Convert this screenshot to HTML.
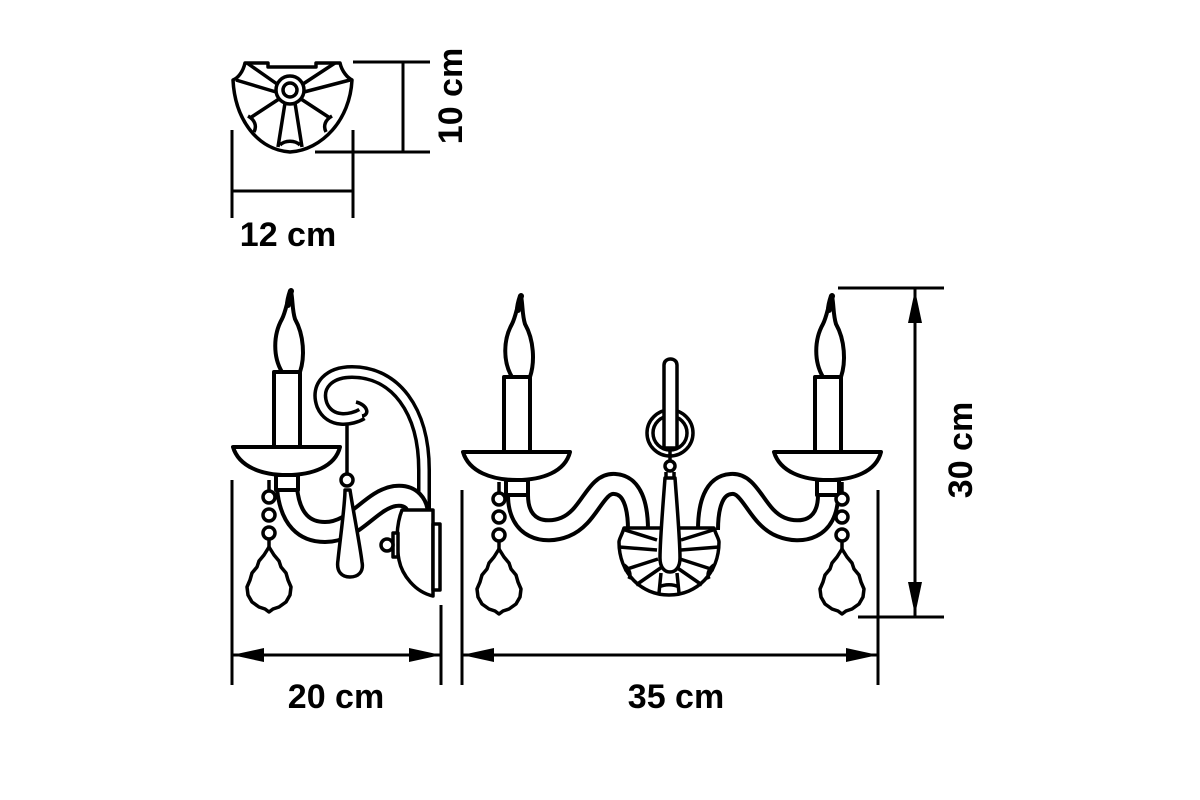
<!DOCTYPE html>
<html><head><meta charset="utf-8"><style>html,body{margin:0;padding:0;background:#fff}svg{display:block}</style></head>
<body>
<svg width="1200" height="800" viewBox="0 0 1200 800" xmlns="http://www.w3.org/2000/svg">
<defs>
<g id="candle" fill="none" stroke="#000" stroke-width="4" stroke-linejoin="round">
 <path d="M-5,-75 C-14,-90 -14,-112 -5,-128 C-1,-136 0,-146 4,-156 C6,-146 5,-138 8,-128 C17,-112 18,-90 13,-75 Z" fill="#fff"/>
 <path d="M4,-156 C2,-150 1,-146 1,-142" stroke-width="6" stroke-linecap="round"/>
 <rect x="-13" y="-75" width="26" height="75" fill="#fff"/>
 <path d="M-54,0 L53,0 C48,20 25,28 0,28 C-25,28 -48,20 -54,0 Z" fill="#fff"/>
 <rect x="-11" y="28" width="22" height="15" fill="#fff"/>
</g>
<g id="crystal" fill="#fff" stroke="#000" stroke-width="3.5" stroke-linejoin="round">
 <line x1="0" y1="-14" x2="0" y2="-4"/>
 <circle cx="0" cy="3" r="6"/><circle cx="0" cy="21" r="6"/><circle cx="0" cy="39" r="6"/>
 <line x1="0" y1="45" x2="0" y2="53"/>
 <path d="M0,53 L-5,61 L-10,67 L-12,73 L-17,79 L-19,86 L-22,93 L-21,101 L-17,108 L-10,113 L-4,115 L0,118 L4,115 L10,113 L17,108 L21,101 L22,93 L19,86 L17,79 L12,73 L10,67 L5,61 Z"/>
</g>
<g id="plate" fill="none" stroke="#000" stroke-width="3.5" stroke-linejoin="round">
 <path d="M-45,-17 L45,-17 C47,-10 50,-6 50,-3 C50,28 28,50 0,50 C-28,50 -50,28 -50,-3 C-50,-6 -47,-10 -45,-17 Z" fill="#fff"/>
 <path d="M-8,28 L-10,48 M8,28 L10,48 M-10,42 C-4,39 4,39 10,42"/>
 <path d="M-12,-5 L-44,-15 M-12,5 L-50,2 M-11,14 L-45,25 M-7,22 L-33,40 M12,-5 L44,-15 M12,5 L50,2 M11,14 L45,25 M7,22 L33,40"/>
 <path d="M-45,20 C-39,24 -38,30 -40,34 M45,20 C39,24 38,30 40,34"/>
</g>
</defs>

<!-- top view plate -->
<g fill="none" stroke="#000" stroke-width="3.5" stroke-linejoin="round">
 <path d="M245,63 L268,63 L268,67 L316,67 L316,63 L340,63 C342,72 348,78 352,80 C350,120 322,150 290,152 C258,150 235,120 233,80 C238,78 243,72 245,63 Z" fill="#fff"/>
 <circle cx="290" cy="90" r="14"/><circle cx="290" cy="90" r="7"/>
 <path d="M277,84 L247,63 M303,84 L335,63 M276,92 L236,80 M304,92 L350,80 M279,99 L250,118 M301,99 L330,118 M285,103 L278,147 M295,103 L302,147 M280,145 C285,140 295,140 300,145"/>
 <path d="M248,116 C255,120 257,126 254,132 M332,116 C325,120 323,126 326,132"/>
</g>
<g stroke="#000" stroke-width="3" fill="none">
 <line x1="353" y1="62" x2="430" y2="62"/>
 <line x1="403" y1="62" x2="403" y2="152"/>
 <line x1="315" y1="152" x2="430" y2="152"/>
 <line x1="232" y1="130" x2="232" y2="218"/>
 <line x1="353" y1="130" x2="353" y2="218"/>
 <line x1="232" y1="191" x2="353" y2="191"/>
</g>
<text x="288" y="246" font-family="Liberation Sans, sans-serif" font-weight="bold" font-size="34" text-anchor="middle">12 cm</text>
<text transform="translate(462,96) rotate(-90)" font-family="Liberation Sans, sans-serif" font-weight="bold" font-size="34" text-anchor="middle">10 cm</text>

<!-- side view -->
<g fill="none" stroke-linecap="butt" stroke-linejoin="round">
 <path d="M362,414 C352,420 330,424 322,405 C315,385 330,372 352,372 C395,372 424,410 424,470 L424,512" stroke="#000" stroke-width="14"/>
 <path d="M362,414 C352,420 330,424 322,405 C315,385 330,372 352,372 C395,372 424,410 424,470 L424,512" stroke="#fff" stroke-width="7"/>
 <path d="M356,402 C368,405 370,415 362,416" stroke="#000" stroke-width="3.5"/>
 <path d="M287,488 C290,520 305,532 325,532 C355,532 370,500 395,496 C412,494 418,505 418,515" stroke="#000" stroke-width="24"/>
 <path d="M287,488 C290,520 305,532 325,532 C355,532 370,500 395,496 C412,494 418,505 418,515" stroke="#fff" stroke-width="16"/>
</g>
<g fill="#fff" stroke="#000" stroke-width="3.5" stroke-linejoin="round">
 <line x1="347" y1="425" x2="347" y2="474"/>
 <circle cx="347" cy="480" r="6"/>
 <path d="M345,490 C345,505 340,540 338,560 C336,572 342,577 350,577 C358,577 364,572 362,562 C360,545 353,510 350,490 Z"/>
 <path d="M402,510 L433,510 L433,596 C415,592 402,575 399,560 C396,545 396,525 402,510 Z"/>
 <rect x="433" y="524" width="7" height="66"/>
 <path d="M393,533 L398,533 L398,557 L393,557 Z"/>
 <circle cx="387" cy="545" r="6"/>
</g>
<use href="#candle" x="287" y="447"/>
<use href="#crystal" x="269" y="494"/>

<!-- front view -->
<g fill="none" stroke-linejoin="round">
 <path d="M518,495 C518,530 545,535 565,527 C590,517 595,482 615,484 C632,485 638,505 638,530" stroke="#000" stroke-width="24"/>
 <path d="M518,495 C518,530 545,535 565,527 C590,517 595,482 615,484 C632,485 638,505 638,530" stroke="#fff" stroke-width="16"/>
 <path d="M828,495 C828,530 801,535 781,527 C756,517 751,482 731,484 C714,485 708,505 708,530" stroke="#000" stroke-width="24"/>
 <path d="M828,495 C828,530 801,535 781,527 C756,517 751,482 731,484 C714,485 708,505 708,530" stroke="#fff" stroke-width="16"/>
</g>
<use href="#plate" x="669" y="545"/>
<g fill="#fff" stroke="#000" stroke-width="3.5" stroke-linejoin="round">
 <circle cx="670" cy="433" r="23"/><circle cx="670" cy="433" r="17"/>
 <path d="M664,448 L664,365 C664,357 677,357 677,365 L677,448 Z"/>
 <line x1="670" y1="448" x2="670" y2="460"/>
 <circle cx="670" cy="466" r="5"/>
 <path d="M666,472 L666,478 M674,472 L674,478"/>
 <path d="M665,478 C663,505 660,540 660,558 C660,568 665,572 670,572 C675,572 680,568 680,558 C680,540 677,505 675,478 Z"/>
</g>
<use href="#candle" x="517" y="452"/>
<use href="#candle" x="828" y="452"/>
<use href="#crystal" x="499" y="496"/>
<use href="#crystal" x="842" y="496"/>

<!-- dimensions -->
<g stroke="#000" stroke-width="3" fill="none">
 <line x1="232" y1="480" x2="232" y2="685"/>
 <line x1="441" y1="605" x2="441" y2="685"/>
 <line x1="462" y1="490" x2="462" y2="685"/>
 <line x1="878" y1="490" x2="878" y2="685"/>
 <line x1="232" y1="655" x2="441" y2="655"/>
 <line x1="462" y1="655" x2="878" y2="655"/>
 <line x1="838" y1="288" x2="944" y2="288"/>
 <line x1="858" y1="617" x2="944" y2="617"/>
 <line x1="915" y1="288" x2="915" y2="617"/>
</g>
<g fill="#000">
 <path d="M232,655 L264,648 L264,662 Z"/>
 <path d="M441,655 L409,648 L409,662 Z"/>
 <path d="M462,655 L494,648 L494,662 Z"/>
 <path d="M878,655 L846,648 L846,662 Z"/>
 <path d="M915,290 L908,323 L922,323 Z"/>
 <path d="M915,615 L908,582 L922,582 Z"/>
</g>
<text x="336" y="708" font-family="Liberation Sans, sans-serif" font-weight="bold" font-size="34" text-anchor="middle">20 cm</text>
<text x="676" y="708" font-family="Liberation Sans, sans-serif" font-weight="bold" font-size="34" text-anchor="middle">35 cm</text>
<text transform="translate(972,450) rotate(-90)" font-family="Liberation Sans, sans-serif" font-weight="bold" font-size="34" text-anchor="middle">30 cm</text>
</svg>
</body></html>
